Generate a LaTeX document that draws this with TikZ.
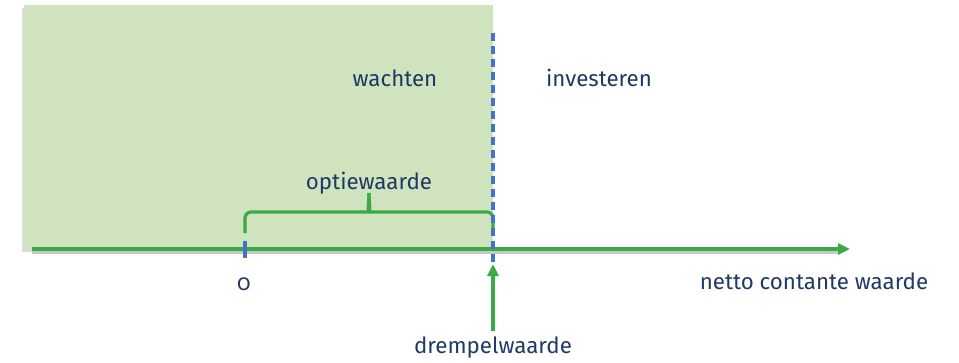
\documentclass[tikz,border=0pt]{standalone}
\usepackage{fontspec}
\setmainfont{Fira Sans}[Numbers=OldStyle]
\usetikzlibrary{arrows.meta,calc}
\definecolor{zone}{HTML}{CFE3BF}
\definecolor{axisgreen}{HTML}{3AAA45}
\definecolor{markblue}{HTML}{4472C4}
\definecolor{ink}{HTML}{1F3864}
\tikzset{
  label/.style={text=ink, font=\fontsize{22.3}{26}\selectfont, inner sep=0pt},
  axisline/.style={draw=axisgreen, line width=3.2pt},
  marker/.style={draw=markblue, line width=3.2pt},
  bracestyle/.style={draw=axisgreen, line width=3.2pt, line join=round},
  tip/.style={-{Triangle[length=12pt,width=11pt]}},
}
\begin{document}
\begin{tikzpicture}[x=1pt,y=-1pt]
  \useasboundingbox (0,0) rectangle (959,362);
  % waiting region with soft shadow
  \fill[black!14] (22,8) rectangle (493,252);
  \fill[zone] (24,5) rectangle (493,249);

  % axis anchors
  \coordinate (a0) at (32,249);
  \coordinate (a1) at (850,249);
  \coordinate (ztop) at (245,241);
  \coordinate (zbot) at (245,258);
  \coordinate (ttop) at (493,33);
  \coordinate (tbot) at (493,262);

  % axis with shadow
  \draw[black!22, line width=3pt] ($(a0)+(0,3)$) -- ($(a1)+(-12,3)$);
  \draw[axisline, tip] (a0) -- (a1);

  % option value brace
  \coordinate (bl) at (245,233);
  \coordinate (br) at (493,233);
  \coordinate (bc) at (369,193);
  \draw[bracestyle, rounded corners=6pt]
    (bl) |- (363,212) to[out=0,in=-90] (bc);
  \draw[bracestyle, rounded corners=6pt]
    (br) |- (375,212) to[out=180,in=-90] (bc);

  % threshold line and zero tick
  \draw[marker, dash pattern=on 8pt off 5pt] (ttop) -- (tbot);
  \draw[marker] (ztop) -- (zbot);

  % labels
  \node[label] (wachten) at (395,78) {wachten};
  \node[label] (investeren) at (599,78) {investeren};
  \node[label] (optie) at (369,183) {optiewaarde};
  \node[label] (nul) at (244,284) {0};
  \node[label] (ncw) at (814,281) {netto contante waarde};
  \node[label] (drempel) at (493,348) {drempelwaarde};

  % threshold arrow
  \coordinate (dstart) at (493,331);
  \coordinate (dend) at (493,264);
  \draw[axisline, tip] (dstart) -- (dend);
\end{tikzpicture}
\end{document}
